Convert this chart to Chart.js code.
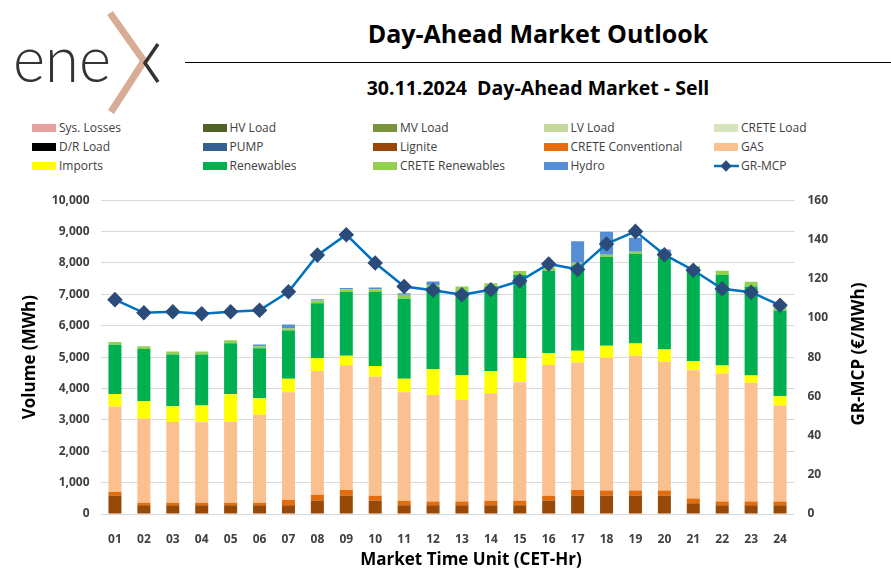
<!DOCTYPE html>
<html>
<head>
<meta charset="utf-8">
<title>Day-Ahead Market Outlook</title>
<script src="https://cdn.jsdelivr.net/npm/chart.js@4.4.1/dist/chart.umd.min.js"></script>
<style>
  body {
    margin: 0;
    width: 891px;
    height: 582px;
    position: relative;
    overflow: hidden;
    background: #fff;
    font-family: "Open Sans", sans-serif;
  }
  #logo { position: absolute; left: 0; top: 0; }
  #title {
    position: absolute; left: 185px; width: 706px; top: 16px;
    text-align: center; font-weight: bold; font-size: 25px; color: #000;
  }
  #rule { position: absolute; left: 185px; width: 706px; top: 62px; border-top: 1px solid #000; }
  #subtitle {
    position: absolute; left: 185px; width: 706px; top: 74px;
    text-align: center; font-weight: bold; font-size: 19.5px; color: #000;
    white-space: pre;
  }
  #legend { position: absolute; left: 32px; top: 119px; width: 860px; }
  .legend-item {
    position: absolute; height: 18px; line-height: 18px;
    font-size: 12px; color: #404040; white-space: nowrap;
  }
  .legend-item span.box { position: absolute; left: 0; top: 5px; width: 24px; height: 8px; }
  .legend-item span.label { position: absolute; left: 27px; top: 0; }
  #chart { position: absolute; left: 0; top: 180px; }
  #x-title {
    position: absolute; left: 271px; width: 400px; top: 547px;
    text-align: center; font-weight: bold; font-size: 17px; color: #000;
  }
  #y1-title {
    position: absolute; left: 758px; width: 200px; top: 343px; height: 22px; line-height: 22px;
    text-align: center; font-weight: bold; font-size: 17px; color: #000;
    transform: rotate(-90deg);
  }
</style>
</head>
<body>
<svg id="logo" width="180" height="115" viewBox="0 0 180 115">
  <polyline points="110,13 144,61 111,112" fill="none" stroke="#D9AC96" stroke-width="7" />
  <polyline points="158,44 145,63 158,82" fill="none" stroke="#333333" stroke-width="3.5" />
  <text x="13" y="82" font-family="Lato, sans-serif" font-weight="300" font-size="66" fill="#333333"
        textLength="98" lengthAdjust="spacingAndGlyphs">ene</text>
</svg>
<div id="title">Day-Ahead Market Outlook</div>
<div id="rule"></div>
<div id="subtitle">30.11.2024  Day-Ahead Market - Sell</div>
<div id="legend"></div>
<canvas id="chart" width="891" height="402"></canvas>
<div id="x-title">Market Time Unit (CET-Hr)</div>
<div id="y1-title">GR-MCP (€/MWh)</div>

<script>
/***** Data *****/
const hours = ["01", "02", "03", "04", "05", "06", "07", "08", "09", "10", "11", "12",
  "13", "14", "15", "16", "17", "18", "19", "20", "21", "22", "23", "24"];

// Volumes in MWh (load side is empty on a sell report)
const noVolume = [0, 0, 0, 0, 0, 0, 0, 0, 0, 0, 0, 0, 0, 0, 0, 0, 0, 0, 0, 0, 0, 0, 0, 0];
const lignite = [590, 275, 275, 275, 275, 275, 275, 430, 590, 430, 275, 275,
  275, 275, 275, 430, 590, 590, 590, 590, 345, 275, 275, 275];
const creteConventional = [115, 85, 85, 85, 85, 85, 175, 185, 175, 155, 145, 125,
  125, 145, 145, 155, 175, 155, 155, 155, 145, 125, 125, 125];
const gas = [2720, 2675, 2570, 2560, 2570, 2800, 3430, 3945, 3975, 3785, 3460, 3390,
  3230, 3430, 3775, 4165, 4060, 4235, 4300, 4100, 4090, 4080, 3785, 3055];
const imports = [400, 555, 500, 535, 890, 525, 430, 410, 305, 345, 430, 825,
  795, 710, 775, 375, 375, 385, 385, 395, 295, 250, 230, 295];
const renewables = [1572, 1671, 1654, 1629, 1619, 1598, 1540, 1745, 2026, 2356, 2552, 2615,
  2675, 2690, 2645, 2626, 2729, 2825, 2860, 2930, 3001, 2885, 2834, 2735];
const creteRenewables = [85, 85, 95, 95, 95, 60, 65, 85, 95, 95, 125, 70,
  150, 105, 125, 105, 75, 75, 70, 40, 30, 135, 155, 135];
const hydro = [0, 0, 0, 0, 0, 60, 120, 40, 40, 50, 50, 110,
  0, 0, 0, 0, 690, 730, 440, 220, 0, 0, 0, 0];

// Market clearing price in €/MWh
const grMcp = [109.3, 102.6, 103.1, 102.1, 103.1, 103.9, 113.3, 132.0, 142.4, 128.0, 116.0, 114.1,
  111.8, 114.3, 118.8, 127.5, 124.7, 137.7, 144.1, 132.2, 124.3, 114.8, 113.1, 106.4];

/***** Chart *****/
const TICK_COLOR = "#404040";
const tickFont = { family: "Open Sans", weight: "bold", size: 12 };
const titleFont = { family: "Open Sans", weight: "bold", size: 17 };

// Stacked volume series, bottom to top in legend order
const barSeries = [
  ["Sys. Losses", noVolume, "#E6A0A0"],
  ["HV Load", noVolume, "#4F6228"],
  ["MV Load", noVolume, "#77933C"],
  ["LV Load", noVolume, "#C3D69B"],
  ["CRETE Load", noVolume, "#D7E4BD"],
  ["D/R Load", noVolume, "#000000"],
  ["PUMP", noVolume, "#376092"],
  ["Lignite", lignite, "#984807"],
  ["CRETE Conventional", creteConventional, "#E46C0A"],
  ["GAS", gas, "#FAC090"],
  ["Imports", imports, "#FFFF00"],
  ["Renewables", renewables, "#00B050"],
  ["CRETE Renewables", creteRenewables, "#92D050"],
  ["Hydro", hydro, "#558ED5"],
];

const datasets = barSeries.map(([label, data, color]) => ({
  type: "bar",
  label: label,
  data: data,
  backgroundColor: color,
  yAxisID: "y",
  stack: "volume",
  order: 1,
  barPercentage: 0.45,
  categoryPercentage: 1,
}));

datasets.push({
  type: "line",
  label: "GR-MCP",
  data: grMcp,
  yAxisID: "y1",
  borderColor: "#0070C0",
  borderWidth: 2.5,
  pointStyle: "rectRot",
  pointRadius: 6,
  pointBackgroundColor: "#2B4B7B",
  pointBorderColor: "#2B4B7B",
  tension: 0,
  order: 0,
});

const chart = new Chart(document.querySelector("#chart"), {
  data: { labels: hours, datasets: datasets },
  options: {
    responsive: false,
    animation: false,
    devicePixelRatio: 1,
    layout: { padding: { left: 20, right: 23, top: 15.7, bottom: 14 } },
    plugins: { legend: { display: false }, tooltip: { enabled: false } },
    scales: {
      x: {
        stacked: true,
        grid: { display: false },
        border: { display: false },
        ticks: { color: TICK_COLOR, font: tickFont, padding: 10.5, maxRotation: 0 },
        afterFit: (scale) => { scale.height = 54; },
      },
      y: {
        stacked: true,
        position: "left",
        min: 0,
        max: 10000,
        ticks: { stepSize: 1000, color: TICK_COLOR, font: tickFont, padding: 11 },
        grid: { color: "#D9D9D9", drawTicks: false },
        border: { display: false },
        title: { display: true, text: "Volume (MWh)", color: "#000", font: titleFont, padding: 0 },
        afterFit: (scale) => { scale.width = 80.5; },
      },
      // price axis; its title is the rotated div above (reads bottom to top)
      y1: {
        position: "right",
        min: 0,
        max: 160,
        ticks: { stepSize: 20, color: TICK_COLOR, font: tickFont, padding: 13 },
        grid: { drawOnChartArea: false, drawTicks: false },
        border: { display: false },
        afterFit: (scale) => { scale.width = 73.5; },
      },
    },
  },
});

/***** Legend *****/
// Five columns, filled row by row, built from the chart's own datasets
const buildLegend = () => {
  const legend = document.querySelector("#legend");
  chart.data.datasets.forEach((ds, i) => {
    const item = document.createElement("div");
    item.className = "legend-item";
    item.style.left = (i % 5) * 170.5 + "px";
    item.style.top = Math.floor(i / 5) * 19 + "px";

    if (ds.type === "line") {
      const svgNS = "http://www.w3.org/2000/svg";
      const icon = document.createElementNS(svgNS, "svg");
      icon.setAttribute("width", "26");
      icon.setAttribute("height", "18");
      icon.style.position = "absolute";
      icon.style.left = "0";
      icon.style.top = "0";
      icon.innerHTML =
        `<line x1="0" y1="9" x2="25" y2="9" stroke="${ds.borderColor}" stroke-width="2.5"/>` +
        `<rect x="8" y="5" width="8" height="8" fill="${ds.pointBackgroundColor}" transform="rotate(45 12 9)"/>`;
      item.appendChild(icon);
    } else {
      const box = document.createElement("span");
      box.className = "box";
      box.style.background = ds.backgroundColor;
      item.appendChild(box);
    }

    const text = document.createElement("span");
    text.className = "label";
    text.textContent = ds.label;
    item.appendChild(text);
    legend.appendChild(item);
  });
};

buildLegend();
</script>
</body>
</html>
